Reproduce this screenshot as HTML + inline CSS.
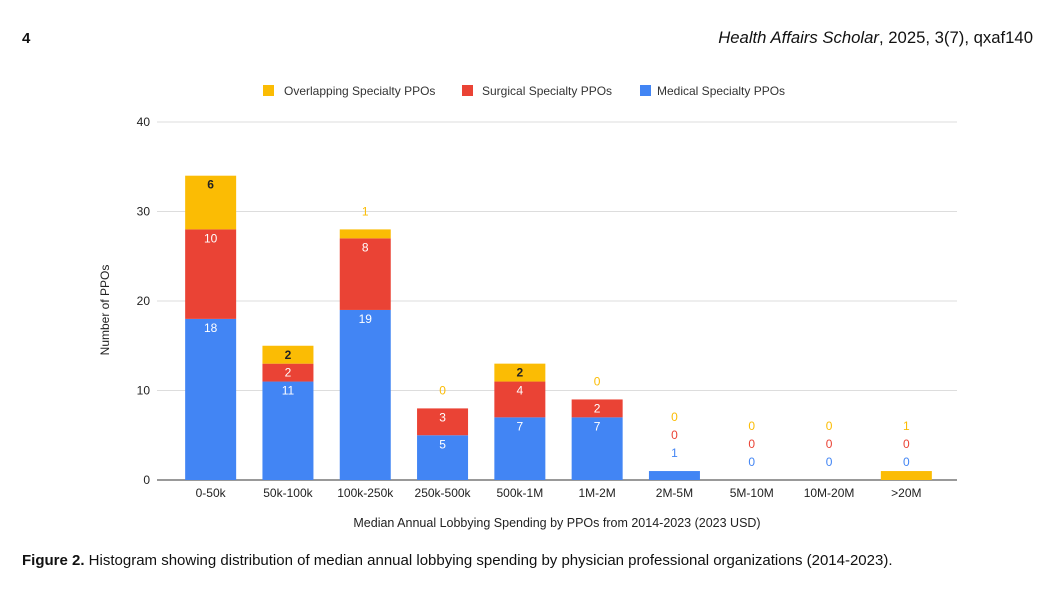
<!DOCTYPE html>
<html><head><meta charset="utf-8"><style>
body{margin:0;background:#fff;width:1055px;height:594px;overflow:hidden;font-family:"Liberation Sans",Arial,sans-serif;}
</style></head><body>
<svg width="1055" height="594" xmlns="http://www.w3.org/2000/svg">
<text x="22" y="43" font-size="15" font-weight="bold" fill="#111">4</text>
<text x="1033" y="43" font-size="16.7" fill="#111" text-anchor="end"><tspan font-style="italic">Health Affairs Scholar</tspan>, 2025, 3(7), qxaf140</text>
<g id="legend" font-size="12" fill="#333">
<rect x="263" y="85" width="11" height="11" fill="#FBBC04"/>
<text x="284" y="95">Overlapping Specialty PPOs</text>
<rect x="462" y="85" width="11" height="11" fill="#EA4335"/>
<text x="482" y="95">Surgical Specialty PPOs</text>
<rect x="640" y="85" width="11" height="11" fill="#4285F4"/>
<text x="657" y="95">Medical Specialty PPOs</text>
</g>
<g id="grid"></g>
<g id="bars"></g>
<g id="labels"></g>
<text transform="translate(109,310) rotate(-90)" font-size="12" fill="#222" text-anchor="middle">Number of PPOs</text>
<text x="557" y="527" font-size="12.5" fill="#222" text-anchor="middle">Median Annual Lobbying Spending by PPOs from 2014-2023 (2023 USD)</text>
<text x="22" y="565" font-size="15" fill="#111"><tspan font-weight="bold">Figure 2.</tspan>  Histogram showing distribution of median annual lobbying spending by physician professional organizations (2014-2023).</text>
</svg>
<script>
const categories=["0-50k","50k-100k","100k-250k","250k-500k","500k-1M","1M-2M","2M-5M","5M-10M","10M-20M",">20M"];
const medical=[18,11,19,5,7,7,1,0,0,0];
const surgical=[10,2,8,3,4,2,0,0,0,0];
const overlapping=[6,2,1,0,2,0,0,0,0,1];
const yTicks=[0,10,20,30,40];
const NS="http://www.w3.org/2000/svg";
const y0=480,yTop=122,yMax=40,x0=172,step=77.3,bw=51;
const y=v=>y0-(v/yMax)*(y0-yTop);
const xc=i=>x0+step*(i+0.5);
function mk(tag,attrs,parent,txt){const e=document.createElementNS(NS,tag);for(const k in attrs)e.setAttribute(k,attrs[k]);if(txt!==undefined)e.textContent=txt;parent.appendChild(e);return e;}
const grid=document.getElementById('grid'),bars=document.getElementById('bars'),labels=document.getElementById('labels');
yTicks.forEach(t=>{
 const l=mk('line',{x1:157,x2:957,y1:y(t),y2:y(t),stroke:t===0?'#333':'#ddd','stroke-width':1},grid);
 
 
 const tx=mk('text',{x:150,y:y(t)+4,'font-size':12,fill:'#222','text-anchor':'end'},grid,t);
 
 
});
const series=[{d:medical,c:'#4285F4',n:'medical',lc:'#fff'},{d:surgical,c:'#EA4335',n:'surgical',lc:'#fff'},{d:overlapping,c:'#FBBC04',n:'overlapping',lc:'#222'}];
categories.forEach((cat,i)=>{
 const tx=mk('text',{x:xc(i),y:497,'font-size':12,fill:'#222','text-anchor':'middle'},grid,cat);
 
 
 let cum=0,lastLabel=1e9;
 series.forEach(s=>{
  const v=s.d[i],b=cum,t=cum+v;cum=t;
  if(v>0){
   const r=mk('rect',{x:xc(i)-bw/2,y:y(t),width:bw,height:y(b)-y(t),fill:s.c},bars);
   
   
  }
  let ly,col,fw='normal';
  if(y(b)-y(t)>=16){ly=y(t)+13;col=s.lc;fw=s.n==='overlapping'?'bold':'normal';}
  else{ly=y(t)-14;if(ly>lastLabel-18)ly=lastLabel-18;col=s.c;lastLabel=ly;}
  const lt=mk('text',{x:xc(i),y:ly,'font-size':12,fill:col,'font-weight':fw,'text-anchor':'middle'},labels,v);
  
  
 });
});
</script>
</body></html>
